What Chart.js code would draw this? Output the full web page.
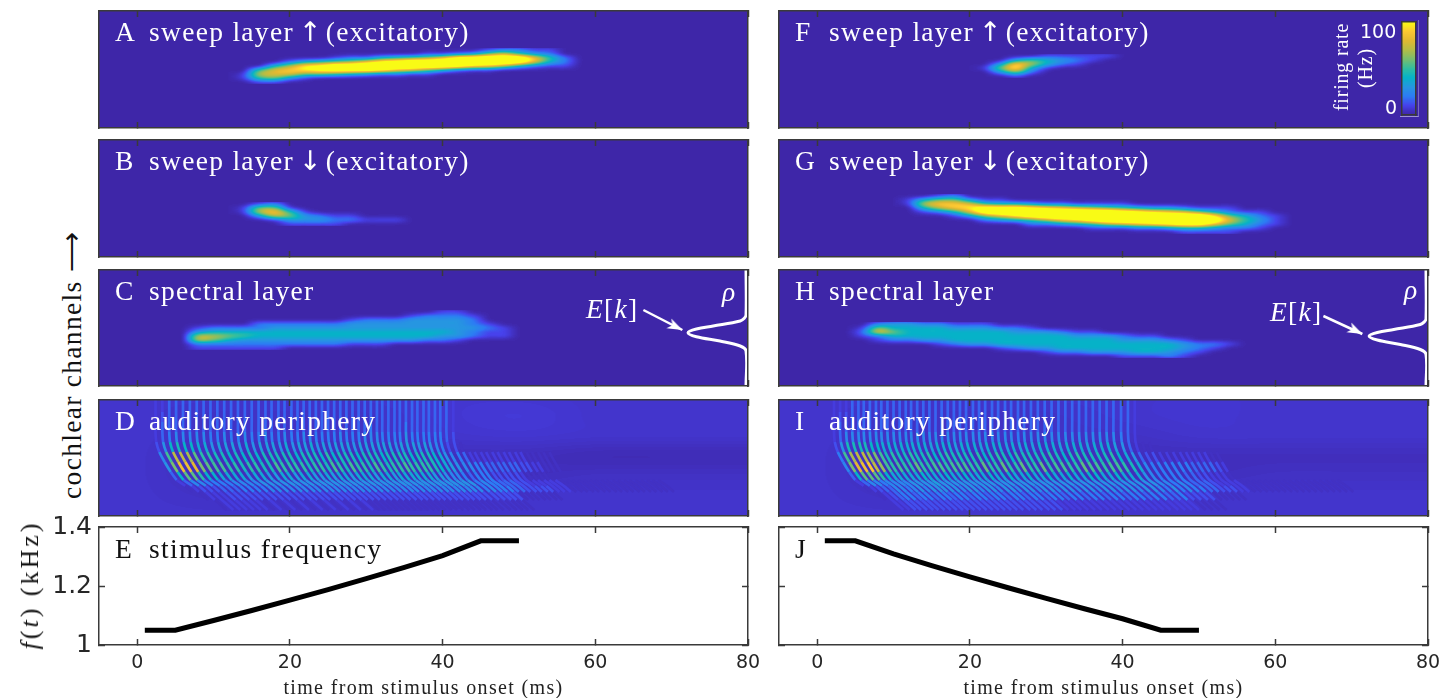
<!DOCTYPE html>
<html>
<head>
<meta charset="utf-8">
<title>sweep layers</title>
<script src="https://cdn.jsdelivr.net/npm/chart.js@4"></script>
<style>
  html, body { margin: 0; background: #fff; overflow: hidden; }
  #page { position: relative; width: 1455px; height: 698px; }
  #page canvas { position: absolute; }
  .txt { position: absolute; white-space: nowrap; font-family: "Liberation Serif", serif; line-height: 1; }
  .lab { font-size: 27.5px; letter-spacing: 1.3px; color: #fff; }
  .lab b { font: normal 27px "DejaVu Sans"; line-height: 0; letter-spacing: -4px; margin-left: -3px; }
  .dark { color: #111; }
  .rot { transform: translate(-50%, -50%) rotate(-90deg); }
  .mid { transform: translateX(-50%); }
  .cbframe { position: absolute; left: 1400px; top: 20px; width: 18px; height: 96px; border-right: 1px solid rgba(255,255,255,.3); border-bottom: 1px solid rgba(255,255,255,.5); }
</style>
</head>
<body>
<div id="page"><div class="cbframe"></div></div>
<script>
const xTickValues = [0, 20, 40, 60, 80];
const fTickValues = [1, 1.2, 1.4];

// heat rows: top row first, one char per 2 ms, base 36 digit = tens of Hz (above a = saturated)
const rowsA = [
  '0000000000000000012211',
  '0000000000000112368532',
  '0000000122456 79cdddd952'.replace(' ', ''),
  '0000245679bcdddddddc842',
  '00047abddddddddca974211',
  '0058 9abcccb986 4211'.replace(/ /g, ''),
  '01788665432211',
  '0156310',
  '0011'
];
const rowsB = [
  '00120000000000',
  '01661000000000',
  '01795100000000',
  '00376321100000',
  '00013332211100',
  '00001111000000'
];
const rowsC = [
  '00000000000000000011',
  '000000000000000012221',
  '000000000000122233332',
  '0000002222223333333321',
  '00122223333333333333321',
  '00344444444444444443211',
  '00776544444444444433211',
  '0076433333333333322 1'.replace(' ', ''),
  '002222222222111',
  '00111111'
];
const rowsF = [
  '00000111110',
  '00035432100',
  '00397421000',
  '016a4100000',
  '00362000000',
  '00010000000'
];
const rowsG = [
  '000120',
  '01466311',
  '0179985443221111',
  '00479acccba987654332111',
  '001248cddddddddcba9864211',
  '00001368acddddddddddda6421',
  '000000234579acdddddddc8531',
  '00000000022345789abcc96421',
  '0000000000000111223443221',
  '00000000000000000001111'
];
const rowsH = [
  '0023322111',
  '0164444333221',
  '02864444444333211',
  '012444444444444333211',
  '00122334444444444433321',
  '00000012334444444444443221',
  '0000000000123344444444321',
  '00000000000001223334432 1'.replace(' ', ''),
  '000000000000000000111 21'.replace(' ', '')
];
const colorbarLevels = [100, 90, 80, 70, 60, 50, 40, 30, 20, 10, 0];

// auditory periphery: background level in Hz, columns every 10 ms from -10, rows every 20 channels from 120
const baseD = [
  [5, 5, 5, 5, 5, 6, 6, 5, 5, 5, 5],
  [5, 5, 4, 4, 4, 6, 7, 5, 5, 5, 5],
  [5, 5, 4, 4, 4, 5, 6, 5, 5, 5, 5],
  [5, 5, 3, 3, 3, 3, 3, 2, 2, 2, 2],
  [5, 5, 3, 3, 3, 3, 3, 4, 4, 4, 4],
  [5, 5, 4, 4, 4, 4, 5, 5, 5, 5, 5],
  [5, 5, 5, 5, 5, 5, 5, 5, 5, 5, 5]
];
const baseI = [
  [5, 5, 5, 5, 5, 5, 6, 5, 5, 5, 5],
  [5, 5, 4, 4, 4, 5, 6, 5, 5, 5, 5],
  [5, 5, 4, 4, 4, 4, 5, 5, 5, 5, 5],
  [5, 5, 3, 3, 3, 3, 3, 3, 3, 3, 3],
  [5, 5, 3, 3, 3, 3, 3, 4, 4, 4, 4],
  [5, 5, 4, 4, 4, 4, 5, 5, 5, 5, 5],
  [5, 5, 5, 5, 5, 5, 5, 5, 5, 5, 5]
];

// wave crests: time at the top of the panel, how far each channel lags, level per channel per crest
const stripeChannels = [116, 104, 94, 84, 74, 64, 54, 44, 36, 30, 24, 16, 6];
const stripeDelay = [0, 0, 0, 0, 0.1, 0.5, 1.2, 2.0, 2.8, 3.9, 4.8, 6.0, 7.5];
const stripeTimesD = [2.4, 3.3, 4.2, 5.1, 6.0, 6.9, 7.8, 8.7, 9.6, 10.5, 11.4, 12.3, 13.2, 14.1, 15.0, 15.9, 16.8, 17.6, 18.5, 19.3, 20.2, 21.0, 21.8, 22.6, 23.4, 24.2, 25.0, 25.8, 26.6, 27.4, 28.2, 29.0, 29.8, 30.6, 31.4, 32.1, 32.9, 33.7, 34.4, 35.2, 36.0, 36.7, 37.5, 38.2, 39.0, 39.7, 40.5, 41.4, 42.2, 43, 43.7, 44.5, 45.2, 46, 46.7, 47.5, 48.2, 49, 49.7, 50.5, 51.2, 52, 52.7, 53.5, 54.2, 55, 55.7, 56.5, 57.2, 58, 58.7, 59.5, 60.2, 61, 61.7, 62.5, 63.2, 64, 64.7, 65.5, 66.2, 67, 67.7, 68.5];
const stripeTimesI = [2.2, 3.0, 3.8, 4.6, 5.4, 6.1, 6.9, 7.7, 8.4, 9.2, 10.0, 10.8, 11.6, 12.3, 13.1, 13.9, 14.7, 15.5, 16.3, 17.1, 17.9, 18.7, 19.5, 20.4, 21.2, 22.0, 22.9, 23.7, 24.6, 25.4, 26.3, 27.1, 28.0, 28.9, 29.8, 30.7, 31.6, 32.5, 33.4, 34.3, 35.2, 36.1, 37.0, 37.9, 38.8, 39.8, 40.7, 41.6, 42.5, 43.4, 44.3, 45.2, 46.1, 47, 47.8, 48.6, 49.4, 50.2, 51, 51.8, 52.6, 53.4, 54.2, 55, 55.8, 56.6, 57.4, 58.2, 59, 59.8, 60.6, 61.4, 62.2, 63, 63.8, 64.6, 65.4, 66.2, 67, 67.8];
const stripeRowsD = [
  '112222222222222222222222222222222222222222222221',
  '112222222222222222222222222222222222222222222221',
  '122222222222222222222222222222222222222222222221',
  '122222222222222222222222222222222322222322222221',
  '123444443343343343343344333343334343333433333322',
  '2577665545454545454545454545454545455454545432111',
  '48bbb87776666666767666766766766676666766676665543222222222211111',
  '37aa977666656655665665565665666566566666655433223332222221111',
  '13443333333333333333333333333333333333333333333222211111',
  '11222222333344444444444444444444444444444444444343333322222222111111111111111111',
  '01111222222222222222222222222222222222222222222222221111111',
  '0011111111111111111111111111111111111111111111111111',
  '00011111101010101010101010'
];
const stripeRowsI = [
  '111222222222222222222222222222222222222222222221',
  '111222222222222222222222222222222222222222222221',
  '122222222222222222222222222222222222222222222221',
  '122222222222222222222222222222222222222222222221',
  '124444444444444444444444444444344444444444444321',
  '25777766555555554555455545554555455545554555442111',
  '38abb9976766766766767667667667667676667676676553222222222211',
  '37aab9766666766676676667667667667667667766766643333333222221',
  '13443333333333333333333333333333333333333333333322221111',
  '11222333344445444444444444444444444444444444444343433332222211111111111111111',
  '0112233233233233233233233233233233233233233233223222211111',
  '00112222222222222222222222222222222222222222222221111',
  '00111111111111111111111111111'
];

// right hand profile of the spectral layer
const rhoValues = [1, 1, 0.97, 0.9, 0.434, 0.145, 0, 0.145, 0.55, 0.9, 1, 1];
const rhoChannelsC = [116, 71, 67.7, 65, 60, 57, 53.3, 49.3, 45, 40, 35, 0];
const rhoChannelsH = [116, 67, 64.2, 61.5, 56.5, 53.5, 50, 46, 41.5, 36.5, 31.5, 0];

// stimulus frequency in kHz
const freqTimes = [1, 5, 10, 15, 20, 25, 30, 35, 40, 45, 50];
const freqUp = [1.05, 1.05, 1.083, 1.117, 1.152, 1.188, 1.225, 1.263, 1.303, 1.353, 1.353];
const freqDown = [1.353, 1.353, 1.309, 1.269, 1.231, 1.194, 1.158, 1.123, 1.089, 1.05, 1.05];

const parulaStops = [
  [0, 62, 38, 168], [10, 71, 66, 236], [20, 44, 124, 244], [30, 38, 150, 225],
  [40, 6, 178, 200], [50, 50, 190, 160], [60, 120, 190, 110], [70, 180, 189, 70],
  [80, 225, 185, 50], [90, 253, 200, 50], [100, 249, 251, 21]
];

function parula(v) {
  v = Math.max(0, Math.min(100, v));
  let i = 0;
  while (i < parulaStops.length - 2 && v > parulaStops[i + 1][0]) i++;
  const a = parulaStops[i], b = parulaStops[i + 1];
  const f = (v - a[0]) / (b[0] - a[0]);
  return [1, 2, 3].map(k => Math.round(a[k] + (b[k] - a[k]) * f));
}
const parulaCss = v => 'rgb(' + parula(v).join(',') + ')';
const FRAME = '#3a3a3a';
const GRAY = 1.7;
const lut = [];
for (let i = 0; i < 256; i++) lut.push(parula(i / GRAY));

function parseRows(rows) {
  const n = Math.max(...rows.map(r => r.length)) + 2;
  return rows.map(r => r.padEnd(n, '0').split('').map(c => parseInt(c, 36) * 10));
}

// flat list of {x, y, v}, one for each cell
function heatCells(grid, t0, dt, topChannel, dChannel) {
  const cells = [];
  grid.forEach((row, r) => row.forEach((v, c) => {
    cells.push({ x: t0 + c * dt, y: topChannel - r * dChannel, v });
  }));
  return cells;
}

function heatDataset(grid, t0, dt, topChannel, dChannel, blur) {
  return {
    data: heatCells(grid, t0, dt, topChannel, dChannel),
    heat: { cols: grid[0].length, rows: grid.length, t0, dt, topChannel, dChannel, blur: blur || 0 },
    pointRadius: 0
  };
}

// paints the cells through the chart scales, values are smoothed first and coloured after
const heatPlugin = {
  id: 'heat',
  beforeDatasetsDraw(chart) {
    const { ctx, chartArea: area, scales } = chart;
    ctx.save();
    ctx.fillStyle = parulaCss(0);
    if (chart.options.plugins.heat.fill) ctx.fillRect(area.left, area.top, area.right - area.left, area.bottom - area.top);
    ctx.beginPath();
    ctx.rect(area.left, area.top, area.right - area.left, area.bottom - area.top);
    ctx.clip();
    chart.data.datasets.forEach(ds => {
      if (!ds.heat) return;
      const h = ds.heat;
      const low = document.createElement('canvas');
      low.width = h.cols; low.height = h.rows;
      const lc = low.getContext('2d');
      const img = lc.createImageData(h.cols, h.rows);
      ds.data.forEach((cell, i) => {
        const g = Math.min(255, Math.round(cell.v * GRAY));
        img.data[i * 4] = img.data[i * 4 + 1] = img.data[i * 4 + 2] = g;
        img.data[i * 4 + 3] = 255;
      });
      lc.putImageData(img, 0, 0);
      const x0 = scales.x.getPixelForValue(h.t0 - h.dt / 2);
      const x1 = scales.x.getPixelForValue(h.t0 + (h.cols - 0.5) * h.dt);
      const y0 = scales.y.getPixelForValue(h.topChannel + h.dChannel / 2);
      const y1 = scales.y.getPixelForValue(h.topChannel - (h.rows - 0.5) * h.dChannel);
      const w = Math.max(1, Math.round(x1 - x0)), hh = Math.max(1, Math.round(y1 - y0));
      const hi = document.createElement('canvas');
      hi.width = w; hi.height = hh;
      const hc = hi.getContext('2d', { willReadFrequently: true });
      hc.fillStyle = '#000';
      hc.fillRect(0, 0, w, hh);
      hc.imageSmoothingEnabled = true;
      hc.imageSmoothingQuality = 'high';
      if (h.blur) hc.filter = 'blur(' + h.blur + 'px)';
      hc.drawImage(low, 0, 0, w, hh);
      const out = hc.getImageData(0, 0, w, hh);
      for (let i = 0; i < out.data.length; i += 4) {
        const c = lut[out.data[i]];
        out.data[i] = c[0]; out.data[i + 1] = c[1]; out.data[i + 2] = c[2];
      }
      hc.filter = 'none';
      hc.putImageData(out, 0, 0);
      ctx.drawImage(hi, x0, y0);
    });
    ctx.restore();
  },
  beforeDatasetDraw(chart, args) {
    const ds = chart.data.datasets[args.index];
    if (ds.soft) chart.ctx.filter = 'blur(' + ds.soft + 'px)';
  },
  afterDatasetDraw(chart, args) {
    if (chart.data.datasets[args.index].soft) chart.ctx.filter = 'none';
  }
};

function stripeDatasets(times, rows) {
  const grid = parseRows(rows);
  return times.map((t, i) => {
    const levels = grid.map(r => (r[i] || 0) * 0.8);
    return {
      data: stripeChannels.map((c, r) => ({ x: t + stripeDelay[r], y: c })),
      showLine: true,
      pointRadius: 0,
      borderWidth: 2.7,
      tension: 0.25,
      soft: 0.7,
      borderColor: 'transparent',
      segment: {
        borderColor: ctx => {
          const v = (levels[ctx.p0DataIndex] + levels[ctx.p1DataIndex]) / 2;
          return v === 0 ? 'transparent' : parulaCss(v);
        }
      }
    };
  });
}

function fixedAxis(position, tickValues, min, max, opt) {
  const horizontal = position === 'top' || position === 'bottom';
  const o = opt || {};
  const tickLen = tickValues.length ? -6 : 0;
  return {
    type: 'linear',
    position,
    min, max,
    afterBuildTicks: s => { s.ticks = tickValues.map(v => ({ value: v })); },
    afterFit: s => {
      if (horizontal) s.height = o.size || 0; else s.width = o.size || 0;
      s.paddingLeft = s.paddingRight = s.paddingTop = s.paddingBottom = 0;
    },
    grid: { drawOnChartArea: false, drawTicks: tickValues.length > 0, tickLength: tickLen, tickColor: FRAME, tickWidth: 1.5, z: 1 },
    border: { display: true, color: FRAME, width: 1.5, z: 1 },
    ticks: {
      display: !!o.labels,
      autoSkip: false,
      maxRotation: 0,
      padding: (o.pad || 0) + 6,
      color: '#262626',
      font: { family: 'DejaVu Sans', size: o.font || 19 },
      callback: v => String(v)
    }
  };
}

const page = document.getElementById('page');

function addChart(box, datasets, scales, fill) {
  const c = document.createElement('canvas');
  const m = box.margin || { l: 2, r: 2, t: 2, b: 2 };
  const w = box.w + m.l + m.r, h = box.h + m.t + m.b;
  c.width = w; c.height = h;
  c.style.left = (box.x - m.l) + 'px';
  c.style.top = (box.y - m.t) + 'px';
  c.style.width = w + 'px';
  c.style.height = h + 'px';
  page.appendChild(c);
  return new Chart(c, {
    type: 'scatter',
    data: { datasets },
    options: {
      responsive: false,
      animation: false,
      layout: {
        autoPadding: false,
        padding: { left: box.axisLeft ? 0 : m.l, right: m.r, top: m.t, bottom: box.axisBottom ? 0 : m.b }
      },
      plugins: { legend: { display: false }, tooltip: { enabled: false }, heat: { fill } },
      scales
    },
    plugins: [heatPlugin]
  });
}

function heatScales(channels) {
  return {
    x: fixedAxis('bottom', xTickValues, -5, 80),
    xTop: fixedAxis('top', xTickValues, -5, 80),
    y: fixedAxis('left', [], 0, channels),
    yRight: fixedAxis('right', [], 0, channels)
  };
}

function text(str, x, y, cls, style) {
  const d = document.createElement('div');
  d.className = 'txt ' + cls;
  d.innerHTML = str;
  d.style.left = x + 'px';
  d.style.top = y + 'px';
  if (style) Object.assign(d.style, style);
  page.appendChild(d);
}

const leftX = 99, rightX = 779, panelW = 649;

addChart({ x: leftX, y: 11, w: panelW, h: 117 }, [heatDataset(parseRows(rowsA), 12, 2, 78, 4, 1.5)], heatScales(117), true);
addChart({ x: leftX, y: 140, w: panelW, h: 117 }, [heatDataset(parseRows(rowsB), 12, 2, 53, 4, 1.5)], heatScales(117), true);
addChart({ x: rightX, y: 11, w: panelW, h: 117 }, [heatDataset(parseRows(rowsF), 20, 2, 72, 4, 1.5)], heatScales(117), true);
addChart({ x: rightX, y: 140, w: panelW, h: 117 }, [heatDataset(parseRows(rowsG), 10, 2, 61, 4, 1.5)], heatScales(117), true);

// arrow tip sits in the middle of this little canvas
function arrowHead(angle) {
  const c = document.createElement('canvas');
  c.width = c.height = 40;
  const g = c.getContext('2d');
  g.translate(20, 20);
  g.rotate(angle * Math.PI / 180);
  g.fillStyle = '#fff';
  g.beginPath();
  g.moveTo(0, 0);
  g.lineTo(-15, -5.5);
  g.lineTo(-11, 0);
  g.lineTo(-15, 5.5);
  g.closePath();
  g.fill();
  return c;
}

// spectral layer with its rho profile and the E[k] arrow
function spectralSets(rows, t0, top, rhoCh, arrowX, arrowY) {
  return [
    heatDataset(parseRows(rows), t0, 2, top, 4, 1.5),
    {
      data: rhoValues.map((r, i) => ({ x: r, y: rhoCh[i] })),
      xAxisID: 'xRho',
      showLine: true, pointRadius: 0, borderColor: '#fff', borderWidth: 3, tension: 0.35
    },
    {
      data: arrowX.map((x, i) => ({ x, y: arrowY[i] })),
      showLine: true, borderColor: '#fff', borderWidth: 2.5,
      pointRadius: [0, 6], pointStyle: arrowHead(26),
      clip: false
    }
  ];
}
const rhoAxis = (min, max) => ({ type: 'linear', display: false, min, max, afterFit: s => { s.height = 0; } });
addChart({ x: leftX, y: 270, w: panelW, h: 116 },
  spectralSets(rowsC, 4, 74, rhoChannelsC, [66.3, 71.4], [76, 56]),
  Object.assign(heatScales(116), { xRho: rhoAxis(-10.155, 1.034) }), true);
addChart({ x: rightX, y: 270, w: panelW, h: 116 },
  spectralSets(rowsH, 4, 62, rhoChannelsH, [66.3, 71.4], [70, 52]),
  Object.assign(heatScales(116), { xRho: rhoAxis(-10.37, 1.035) }), true);

// auditory periphery
addChart({ x: leftX, y: 400, w: panelW, h: 116 },
  [heatDataset(baseD, -10, 10, 120, 20)].concat(stripeDatasets(stripeTimesD, stripeRowsD)), heatScales(116), true);
addChart({ x: rightX, y: 400, w: panelW, h: 116 },
  [heatDataset(baseI, -10, 10, 120, 20)].concat(stripeDatasets(stripeTimesI, stripeRowsI)), heatScales(116), true);

// stimulus panels
function freqSets(values) {
  return [{
    data: freqTimes.map((t, i) => ({ x: t, y: values[i] })),
    showLine: true, pointRadius: 0, borderColor: '#000', borderWidth: 5, borderJoinStyle: 'miter'
  }];
}
function freqScales(labels) {
  return {
    x: fixedAxis('bottom', xTickValues, -5, 80, { labels: true, pad: 7, size: 40 }),
    xTop: fixedAxis('top', xTickValues, -5, 80),
    y: fixedAxis('left', fTickValues, 1, 1.4, { labels, pad: 7, font: 25, size: labels ? 70 : 0 }),
    yRight: fixedAxis('right', fTickValues, 1, 1.4)
  };
}
addChart({ x: leftX, y: 527, w: panelW, h: 118, axisLeft: true, axisBottom: true, margin: { l: 70, r: 16, t: 14, b: 40 } }, freqSets(freqUp), freqScales(true), false);
addChart({ x: rightX, y: 527, w: panelW, h: 118, axisBottom: true, margin: { l: 2, r: 16, t: 14, b: 40 } }, freqSets(freqDown), freqScales(false), false);

// colorbar inside panel F
addChart({ x: 1402, y: 22, w: 14, h: 93, margin: { l: 1, r: 1, t: 1, b: 1 } },
  [heatDataset(colorbarLevels.map(v => [v]), 0, 2, 100, 10)],
  {
    x: fixedAxis('bottom', [], -1, 1),
    xTop: fixedAxis('top', [], -1, 1),
    y: fixedAxis('left', [], 0, 100),
    yRight: fixedAxis('right', [], 0, 100)
  }, true);
page.appendChild(page.querySelector('.cbframe'));

// panel labels
const UP = 'sweep layer <b>↑</b> (excitatory)', DOWN = 'sweep layer <b>↓</b> (excitatory)';
const labels = [
  ['A', UP, leftX, 11], ['B', DOWN, leftX, 140],
  ['C', 'spectral layer', leftX, 270], ['D', 'auditory periphery', leftX, 400],
  ['F', UP, rightX, 11], ['G', DOWN, rightX, 140],
  ['H', 'spectral layer', rightX, 270], ['I', 'auditory periphery', rightX, 400]
];
labels.forEach(([a, b, x, y]) => {
  text(a, x + 16, y + 7, 'lab');
  text(b, x + 50, y + 7, 'lab');
});
text('E', leftX + 16, 535, 'lab dark');
text('stimulus frequency', leftX + 50, 535, 'lab dark');
text('J', rightX + 16, 535, 'lab dark');

text('<i>E</i>[<i>k</i>]', 586, 295, 'lab');
text('<i>E</i>[<i>k</i>]', 1270, 298, 'lab');
text('<i>ρ</i>', 722, 278, 'lab');
text('<i>ρ</i>', 1404, 276, 'lab');

text('cochlear channels ⟶', 72, 365, 'lab dark rot');
text('<i>f</i>(<i>t</i>) (kHz)', 30, 585, 'lab dark rot', { fontSize: '26px', letterSpacing: '3px' });

const xTitle = { color: '#222', fontSize: '20px', letterSpacing: '1.35px' };
text('time from stimulus onset (ms)', leftX + panelW / 2, 677, 'mid', xTitle);
text('time from stimulus onset (ms)', rightX + panelW / 2, 677, 'mid', xTitle);

const cbText = { color: '#fff', fontSize: '20px', letterSpacing: '0.8px' };
text('firing rate', 1341, 67, 'rot', cbText);
text('(Hz)', 1365, 68, 'rot', cbText);
text('100', 1360, 22, '', { color: '#fff', fontFamily: 'DejaVu Sans', fontSize: '19px' });
text('0', 1385, 98, '', { color: '#fff', fontFamily: 'DejaVu Sans', fontSize: '19px' });
</script>
</body>
</html>
